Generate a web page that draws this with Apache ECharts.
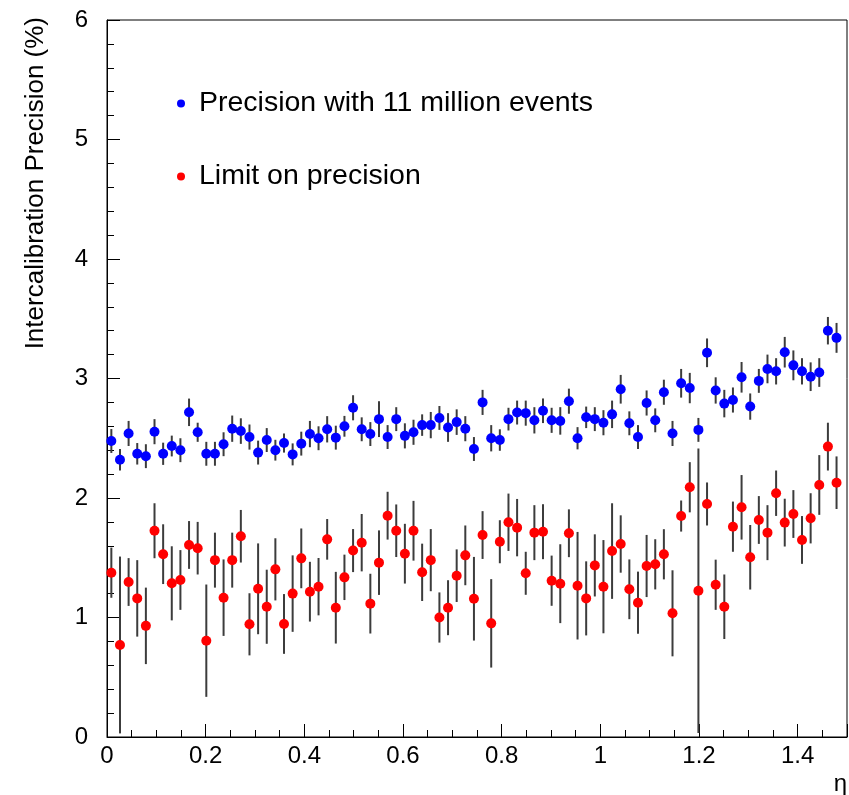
<!DOCTYPE html>
<html>
<head>
<meta charset="utf-8">
<script src="https://cdn.jsdelivr.net/npm/echarts@6/dist/echarts.min.js"></script>
<style>
html,body{margin:0;padding:0;background:#fff;}
#chart{width:849px;height:795px;}
</style>
</head>
<body>
<div id="chart"></div>
<script>
// eta bin centres
var eta = [
0.0088,0.0263,0.0438,0.0613,0.0788,0.0963,0.1138,0.1313,0.1488,0.1663,
0.1838,0.2013,0.2188,0.2363,0.2538,0.2713,0.2888,0.3063,0.3238,0.3413,
0.3588,0.3763,0.3938,0.4113,0.4288,0.4463,0.4638,0.4813,0.4988,0.5163,
0.5338,0.5513,0.5688,0.5863,0.6038,0.6213,0.6388,0.6563,0.6738,0.6913,
0.7088,0.7263,0.7438,0.7613,0.7788,0.7963,0.8138,0.8313,0.8488,0.8663,
0.8838,0.9013,0.9188,0.9363,0.9538,0.9713,0.9888,1.0063,1.0238,1.0413,
1.0588,1.0763,1.0938,1.1113,1.1288,1.1463,1.1638,1.1813,1.1988,1.2163,
1.2338,1.2513,1.2688,1.2863,1.3038,1.3213,1.3388,1.3563,1.3738,1.3913,
1.4088,1.4263,1.4438,1.4613,1.4788];

// Precision with 11 million events (%)
var precision = [
2.477,2.32,2.54,2.37,2.35,2.555,2.37,2.435,2.40,2.717,
2.55,2.37,2.37,2.45,2.58,2.56,2.51,2.38,2.485,2.40,
2.46,2.365,2.455,2.535,2.50,2.575,2.505,2.60,2.755,2.575,
2.535,2.66,2.51,2.66,2.52,2.55,2.61,2.61,2.67,2.59,
2.635,2.58,2.41,2.80,2.50,2.485,2.66,2.715,2.71,2.65,
2.73,2.65,2.645,2.81,2.50,2.675,2.66,2.63,2.70,2.91,
2.625,2.51,2.795,2.65,2.885,2.54,2.96,2.92,2.57,3.215,
2.90,2.79,2.82,3.01,2.765,2.98,3.08,3.06,3.22,3.11,
3.06,3.015,3.05,3.40,3.34];
var precisionErr = [
0.10,0.09,0.105,0.09,0.10,0.105,0.093,0.087,0.10,0.115,
0.08,0.10,0.10,0.10,0.11,0.107,0.105,0.10,0.10,0.087,
0.08,0.092,0.10,0.11,0.10,0.11,0.10,0.087,0.105,0.10,
0.10,0.15,0.10,0.10,0.105,0.105,0.09,0.11,0.10,0.12,
0.107,0.105,0.10,0.105,0.11,0.09,0.095,0.10,0.105,0.11,
0.103,0.105,0.115,0.105,0.093,0.09,0.10,0.105,0.115,0.12,
0.10,0.10,0.105,0.10,0.105,0.105,0.12,0.127,0.10,0.12,
0.11,0.115,0.105,0.128,0.11,0.10,0.12,0.11,0.128,0.125,
0.11,0.12,0.12,0.115,0.125];

// Limit on precision (%)
var limit = [
1.375,0.77,1.297,1.16,0.93,1.726,1.53,1.286,1.314,1.607,
1.58,0.806,1.48,1.166,1.48,1.68,0.943,1.24,1.09,1.403,
0.946,1.20,1.495,1.216,1.258,1.654,1.082,1.336,1.56,1.626,
1.116,1.459,1.852,1.726,1.534,1.726,1.378,1.48,1.00,1.082,
1.35,1.52,1.157,1.69,0.951,1.634,1.797,1.752,1.37,1.71,
1.718,1.308,1.283,1.705,1.266,1.16,1.436,1.258,1.556,1.615,
1.236,1.124,1.431,1.445,1.529,1.035,1.849,2.09,1.224,1.95,
1.274,1.09,1.76,1.922,1.504,1.816,1.71,2.04,1.794,1.866,
1.649,1.83,2.109,2.43,2.128];
var limitErr = [
0.21,0.74,0.20,0.32,0.32,0.23,0.25,0.31,0.25,0.20,
0.22,0.47,0.23,0.32,0.23,0.22,0.26,0.38,0.31,0.26,
0.25,0.32,0.25,0.25,0.24,0.17,0.30,0.19,0.18,0.24,
0.25,0.27,0.20,0.22,0.25,0.25,0.24,0.26,0.21,0.23,
0.22,0.25,0.35,0.20,0.37,0.18,0.24,0.24,0.18,0.23,
0.23,0.21,0.33,0.20,0.45,0.31,0.26,0.39,0.40,0.24,
0.25,0.26,0.26,0.21,0.21,0.36,0.13,0.21,1.19,0.18,
0.21,0.27,0.21,0.27,0.27,0.20,0.23,0.19,0.20,0.20,
0.20,0.21,0.25,0.20,0.22];

var nameBlue = 'Precision with 11 million events';
var nameRed = 'Limit on precision';
var yTitle = 'Intercalibration Precision (%)';
var xTitle = 'η';

var FONT = '"Liberation Sans", Arial, Helvetica, sans-serif';

function pts(xs, ys) { return xs.map(function (x, i) { return [x, ys[i]]; }); }
function errs(xs, ys, es) { return xs.map(function (x, i) { return [x, ys[i], es[i]]; }); }

function renderErr(params, api) {
  var x = api.value(0), y = api.value(1), e = api.value(2);
  var lo = Math.max(0, y - e), hi = y + e;
  var p1 = api.coord([x, lo]), p2 = api.coord([x, hi]);
  return {
    type: 'line',
    shape: { x1: p1[0], y1: p1[1], x2: p2[0], y2: p2[1] },
    style: { stroke: '#3c3c3c', lineWidth: 2 }
  };
}

var chart = echarts.init(document.getElementById('chart'), null, { renderer: 'canvas' });
chart.setOption({
  backgroundColor: '#fff',
  animation: false,
  grid: {
    left: 107, top: 20, width: 740, height: 717,
    show: true, borderColor: '#000', borderWidth: 1,
    containLabel: false, outerBoundsMode: 'none'
  },
  xAxis: {
    type: 'value', min: 0, max: 1.5, interval: 0.2,
    axisLine: { show: true, onZero: false, lineStyle: { color: '#000', width: 1 } },
    axisTick: { show: true, inside: true, length: 13, lineStyle: { color: '#000', width: 1 } },
    minorTick: { show: true, splitNumber: 4, length: 7, lineStyle: { color: '#000', width: 1 } },
    axisLabel: { fontSize: 24, color: '#000', fontFamily: FONT, margin: 7, showMaxLabel: false,
      formatter: function (v) { return String(+v.toFixed(1)); } },
    splitLine: { show: false }
  },
  yAxis: {
    type: 'value', min: 0, max: 6, interval: 1,
    axisLine: { show: true, onZero: false, lineStyle: { color: '#000', width: 1 } },
    axisTick: { show: true, inside: true, length: 13, lineStyle: { color: '#000', width: 1 } },
    minorTick: { show: true, splitNumber: 5, length: 7, lineStyle: { color: '#000', width: 1 } },
    axisLabel: { fontSize: 24, color: '#000', fontFamily: FONT, margin: 19 },
    splitLine: { show: false }
  },
  legend: [
    { data: [nameBlue], left: 177, top: 89, padding: 0, icon: 'circle', itemWidth: 26, itemHeight: 8,
      selectedMode: false, textStyle: { fontSize: 28.5, color: '#000', fontFamily: FONT } },
    { data: [nameRed], left: 177, top: 162, padding: 0, icon: 'circle', itemWidth: 26, itemHeight: 8,
      selectedMode: false, textStyle: { fontSize: 28.5, color: '#000', fontFamily: FONT } }
  ],
  graphic: [
    { type: 'text', x: 36, y: 17, rotation: Math.PI / 2,
      style: { text: yTitle, font: '26px ' + FONT, fill: '#000', textAlign: 'right', textVerticalAlign: 'middle' } },
    { type: 'text', x: 847, y: 784,
      style: { text: xTitle, font: '24px ' + FONT, fill: '#000', textAlign: 'right', textVerticalAlign: 'middle' } }
  ],
  series: [
    { type: 'custom', name: 'errBlue', renderItem: renderErr, data: errs(eta, precision, precisionErr),
      encode: { x: 0, y: 1 }, z: 1, silent: true },
    { type: 'custom', name: 'errRed', renderItem: renderErr, data: errs(eta, limit, limitErr),
      encode: { x: 0, y: 1 }, z: 1, silent: true },
    { type: 'scatter', name: nameRed, data: pts(eta, limit), symbol: 'circle', symbolSize: 10,
      itemStyle: { color: '#ff0000', opacity: 1 }, z: 3 },
    { type: 'scatter', name: nameBlue, data: pts(eta, precision), symbol: 'circle', symbolSize: 10,
      itemStyle: { color: '#0000ff', opacity: 1 }, z: 3 }
  ]
});
</script>
</body>
</html>
